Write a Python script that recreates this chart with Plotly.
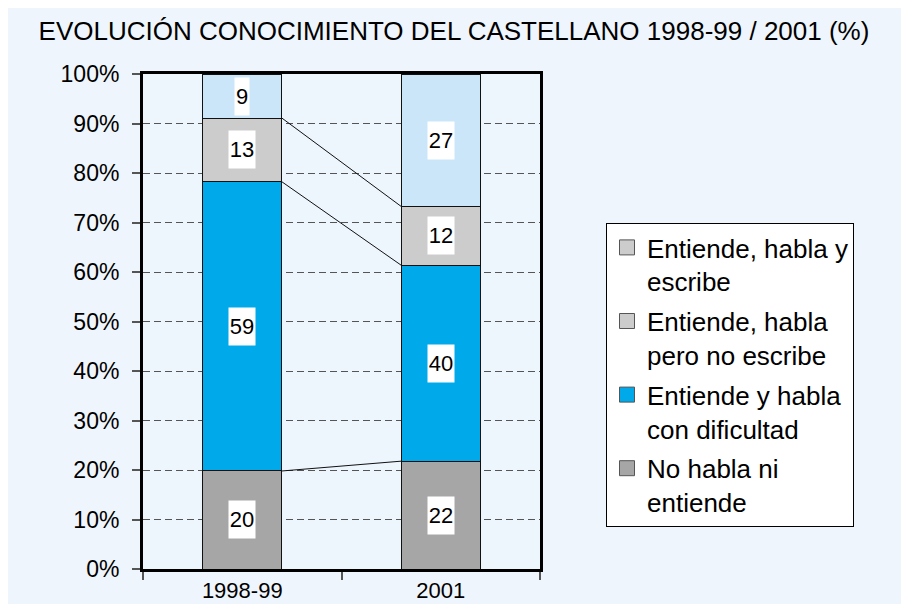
import plotly.graph_objects as go

# ---- data ----
CATEGORIES = ["1998-99", "2001"]
SERIES_NAMES = [
    "No habla ni<br>entiende",
    "Entiende y habla<br>con dificultad",
    "Entiende, habla<br>pero no escribe",
    "Entiende, habla y<br>escribe",
]
NO_HABLA = [20, 22]
CON_DIFICULTAD = [59, 40]
NO_ESCRIBE = [13, 12]
ESCRIBE = [9, 27]
Y_TICKS = [0, 10, 20, 30, 40, 50, 60, 70, 80, 90, 100]
Y_TICK_LABELS = ["0%", "10%", "20%", "30%", "40%", "50%", "60%", "70%", "80%", "90%", "100%"]

SERIES = [NO_HABLA, CON_DIFICULTAD, NO_ESCRIBE, ESCRIBE]
BAR_COLORS = ["#a6a6a6", "#00aaea", "#cccccc", "#cae6f8"]
LEGEND_COLORS = ["#a6a6a6", "#00aaea", "#cccccc", "#cccccc"]
FONT = "Liberation Sans, Arial, sans-serif"
BAR_WIDTH = 0.4

# page offset (default body margin of the html page)
OFF = 8
W, H = 909, 604
PLOT_L, PLOT_R, PLOT_T, PLOT_B = 143, 540, 74, 569  # target screen pixels

# normalise to 100 % (100% stacked chart)
totals = [sum(s[i] for s in SERIES) for i in range(len(CATEGORIES))]
norm = [[s[i] / totals[i] * 100 for i in range(len(CATEGORIES))] for s in SERIES]

fig = go.Figure()
for vals, col in zip(norm, BAR_COLORS):
    fig.add_trace(go.Bar(
        x=CATEGORIES, y=vals, width=BAR_WIDTH,
        marker=dict(color=col, line=dict(color="#111111", width=1)),
        showlegend=False, hoverinfo="skip",
    ))

# legend entries (colors as shown in the original legend), top item first
n = len(SERIES_NAMES)
for k, (name, col) in enumerate(zip(SERIES_NAMES, LEGEND_COLORS)):
    fig.add_trace(go.Scatter(
        x=[None], y=[None], name=name, mode="markers",
        legendgroup=f"g{k}", legendrank=n - k,
        marker=dict(symbol="square", size=15, color=col,
                    line=dict(color="#555555", width=1)),
        showlegend=True,
    ))

# white value labels and connector lines
shapes = []
annotations = []
for i, cat in enumerate(CATEGORIES):
    base = 0.0
    for s_idx, s in enumerate(SERIES):
        h = norm[s_idx][i]
        txt = str(s[i])
        annotations.append(dict(
            x=i, y=base + h / 2, xref="x", yref="y", text=txt,
            showarrow=False, bgcolor="white", borderpad=0,
            width=12 * len(txt) + 2, height=37,
            font=dict(family=FONT, size=22, color="black"),
        ))
        base += h

for i in range(len(CATEGORIES) - 1):
    c0 = 0.0
    c1 = 0.0
    for s_idx in range(len(SERIES) - 1):
        c0 += norm[s_idx][i]
        c1 += norm[s_idx][i + 1]
        shapes.append(dict(
            type="line", xref="x", yref="y",
            x0=i + BAR_WIDTH / 2, x1=i + 1 - BAR_WIDTH / 2, y0=c0, y1=c1,
            line=dict(color="#111111", width=1), layer="above",
        ))

plot_w = PLOT_R - PLOT_L
plot_h = PLOT_B - PLOT_T

fig.update_layout(
    width=W, height=H,
    barmode="stack",
    paper_bgcolor="#eff5fc",
    plot_bgcolor="#edf5fd",
    margin=dict(l=PLOT_L - OFF, r=W + OFF - PLOT_R, t=PLOT_T - OFF,
                b=H + OFF - PLOT_B, autoexpand=False),
    font=dict(family=FONT, color="black"),
    title=dict(
        text="EVOLUCIÓN CONOCIMIENTO DEL CASTELLANO 1998-99 / 2001 (%)",
        x=(454 - OFF) / W, xanchor="center", y=1 - (31 - OFF) / H, yanchor="middle",
        font=dict(family=FONT, size=26, color="black"),
    ),
    xaxis=dict(
        type="category", categoryorder="array", categoryarray=CATEGORIES,
        range=[-0.5, len(CATEGORIES) - 0.5],
        showline=True, linecolor="black", linewidth=3, mirror=True,
        ticks="outside", tickson="boundaries", ticklen=8, tickwidth=1.5, tickcolor="#555555",
        tickfont=dict(family=FONT, size=22, color="black"),
        showgrid=False,
    ),
    yaxis=dict(
        range=[0, 100], tickvals=Y_TICKS, ticktext=Y_TICK_LABELS,
        showline=True, linecolor="black", linewidth=3, mirror=True,
        ticks="outside", ticklen=8, tickwidth=1.5, tickcolor="#555555",
        tickfont=dict(family=FONT, size=23, color="black"),
        ticklabelstandoff=8,
        showgrid=True, gridcolor="#555555", gridwidth=1, griddash="7px,4px",
        zeroline=False,
    ),
    legend=dict(
        x=(606 - PLOT_L) / plot_w, xanchor="left",
        y=(PLOT_B - 223) / plot_h, yanchor="top",
        bgcolor="white", bordercolor="black", borderwidth=1,
        font=dict(family=FONT, size=26, color="black"),
        traceorder="grouped", tracegroupgap=3, valign="top",
        itemwidth=30,
    ),
    shapes=shapes,
    annotations=annotations,
)

fig.write_html("out.html")
